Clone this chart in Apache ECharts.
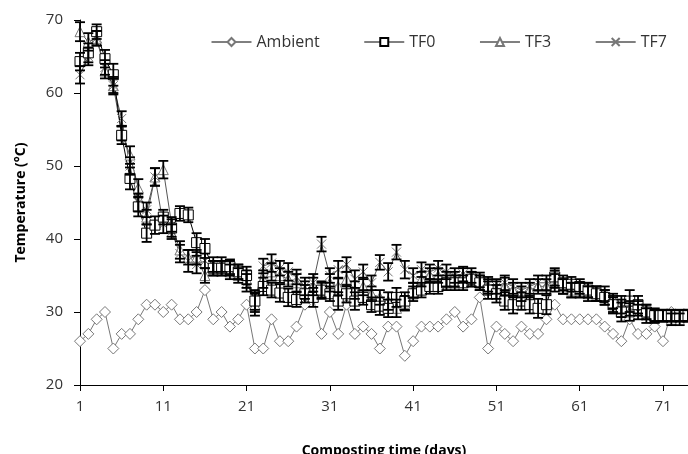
<!DOCTYPE html>
<html>
<head>
<meta charset="utf-8">
<script src="https://cdn.jsdelivr.net/npm/echarts@6/dist/echarts.min.js"></script>
<style>
  html, body { margin: 0; padding: 0; background: #fff; }
  #chart { width: 688px; height: 454px; }
</style>
</head>
<body>
<div id="chart"></div>
<script>
// 天数（类目轴）
const days = Array.from({length: 74}, (_, i) => String(i + 1))

// 环境温度
const ambient = [26, 27, 29, 30, 25, 27, 27, 29, 31, 31, 30, 31, 29, 29, 30, 33, 29, 30, 28, 29,
  31, 25, 25, 29, 26, 26, 28, 31, 32, 27, 30, 27, 31, 27, 28, 27, 25, 28, 28, 24,
  26, 28, 28, 28, 29, 30, 28, 29, 32, 25, 28, 27, 26, 28, 27, 27, 29, 31, 29, 29,
  29, 29, 29, 28, 27, 26, 29, 27, 27, 28, 26, 30]

// TF0 / TF3 / TF7 平均温度
const tf0 = [64.3, 65.5, 68.4, 64.7, 62.5, 54.2, 48.3, 44.4, 40.8, 41.9, 43.0, 41.5, 43.5, 43.3, 39.5, 38.7, 36.0, 36.0, 36.2, 35.5,
  35.0, 31.5, 33.5, 33.0, 32.6, 32.0, 31.7, 32.5, 32.0, 33.0, 32.5, 31.5, 32.5, 31.5, 32.0, 31.0, 30.8, 30.5, 32.0, 31.5,
  32.5, 33.0, 33.5, 33.5, 34.0, 34.0, 34.0, 34.5, 34.0, 33.0, 32.5, 31.5, 31.0, 31.5, 31.0, 30.5, 31.0, 34.8, 34.0, 33.8,
  33.5, 33.0, 32.5, 32.0, 31.0, 30.0, 31.5, 31.0, 30.0, 29.5, 29.5, 29.5, 29.5, 29.5]
const tf3 = [68.4, 67.0, 67.5, 63.0, 61.0, 54.5, 51.5, 47.0, 43.0, 48.5, 49.5, 42.0, 38.5, 37.5, 37.5, 35.0, 36.5, 36.0, 35.5, 35.0,
  34.5, 31.0, 34.5, 35.5, 35.0, 34.5, 34.0, 33.0, 33.5, 33.0, 34.0, 33.5, 34.5, 33.0, 33.5, 32.5, 32.0, 31.5, 30.5, 31.2,
  33.0, 34.5, 35.0, 35.0, 34.5, 34.5, 35.0, 34.5, 34.0, 33.5, 33.0, 33.5, 33.0, 32.5, 33.0, 33.5, 33.5, 34.5, 33.5, 33.0,
  33.0, 32.5, 32.5, 32.0, 31.0, 30.5, 30.0, 30.5, 30.0, 29.5, 29.5, 29.0, 29.5, 29.5]
const tf7 = [62.5, 65.0, 67.5, 63.5, 61.0, 56.5, 50.0, 45.0, 44.0, 48.5, 42.0, 41.0, 38.0, 37.0, 36.5, 37.0, 36.0, 36.5, 36.0, 35.5,
  34.0, 31.5, 36.3, 36.7, 36.0, 35.5, 34.8, 33.5, 34.0, 39.3, 35.0, 35.8, 36.5, 34.5, 35.5, 34.0, 36.8, 35.5, 38.2, 35.8,
  35.0, 35.8, 35.5, 36.0, 35.5, 35.0, 35.2, 35.0, 34.4, 33.8, 33.5, 34.0, 33.5, 33.0, 33.5, 34.0, 34.0, 34.0, 33.5, 33.0,
  33.0, 33.0, 32.5, 32.5, 31.5, 31.0, 30.5, 30.0, 29.5, 29.5, 29.5, 29.5, 29.0, 29.5]

// 误差（标准差）
const tf0Err = [1.2, 1.3, 1.0, 1.2, 1.5, 1.2, 1.5, 1.3, 1.2, 1.2, 1.0, 1.2, 1.0, 1.0, 1.3, 1.3, 1.0, 1.0, 1.0, 1.0,
  1.2, 1.5, 1.2, 1.0, 1.2, 1.2, 1.0, 1.2, 1.3, 1.2, 1.0, 1.2, 1.2, 1.2, 1.0, 1.0, 1.2, 1.2, 1.3, 1.2,
  1.0, 1.0, 1.0, 1.0, 1.0, 1.0, 1.0, 1.0, 1.0, 1.2, 1.2, 1.2, 1.2, 1.2, 1.2, 1.3, 1.3, 1.2, 1.0, 1.0,
  1.0, 1.0, 1.0, 1.0, 1.2, 1.3, 1.5, 1.2, 1.0, 1.0, 0.8, 0.8, 0.8, 0.8]
const tf3Err = [1.3, 1.2, 1.0, 1.0, 1.2, 1.0, 1.2, 1.2, 1.0, 1.2, 1.2, 1.0, 1.2, 1.0, 1.0, 1.0, 1.0, 1.0, 1.0, 1.0,
  1.2, 1.5, 1.2, 1.2, 1.0, 1.0, 1.2, 1.2, 1.2, 1.0, 1.2, 1.2, 1.0, 1.2, 1.2, 1.0, 1.0, 1.2, 1.2, 1.0,
  1.0, 1.0, 1.0, 1.0, 1.0, 1.0, 1.0, 1.0, 1.0, 1.0, 1.2, 1.2, 1.0, 1.0, 1.0, 1.0, 1.0, 1.2, 1.0, 1.0,
  1.0, 1.0, 1.0, 1.0, 1.0, 1.2, 1.2, 1.0, 1.0, 0.8, 0.8, 0.8, 0.8, 0.8]
const tf7Err = [1.2, 1.2, 1.0, 1.0, 1.0, 1.0, 1.2, 1.2, 1.0, 1.2, 1.2, 1.0, 1.2, 1.5, 1.2, 1.0, 1.0, 1.0, 1.0, 1.0,
  1.2, 1.2, 1.0, 1.2, 1.0, 1.2, 1.0, 1.2, 1.2, 1.0, 1.0, 1.2, 1.0, 1.2, 1.0, 1.0, 1.0, 1.2, 1.0, 1.2,
  1.0, 1.0, 1.0, 1.0, 1.0, 1.0, 1.0, 1.0, 1.0, 1.0, 1.0, 1.0, 1.0, 1.0, 1.0, 1.0, 1.0, 1.2, 1.0, 1.0,
  1.0, 1.0, 1.0, 1.0, 1.0, 1.2, 1.0, 1.0, 1.0, 0.8, 0.8, 0.8, 0.8, 0.8]

const FONT = 'Open Sans'
const crossPath = 'path://M0,0L10,10M10,0L0,10'

// 构建误差线数据 [类目索引, 下限, 上限]
const errData = (vals, errs) => vals.map((v, i) => [i, v - errs[i], v + errs[i]])

// 误差线绘制
const renderErrorBar = (params, api) => {
  const idx = api.value(0)
  const lo = api.coord([idx, api.value(1)])
  const hi = api.coord([idx, api.value(2)])
  const w = 5
  const style = {stroke: '#000', lineWidth: 1.8}
  return {
    type: 'group',
    children: [
      {type: 'line', shape: {x1: lo[0], y1: lo[1], x2: hi[0], y2: hi[1]}, style},
      {type: 'line', shape: {x1: lo[0] - w, y1: lo[1], x2: lo[0] + w, y2: lo[1]}, style},
      {type: 'line', shape: {x1: hi[0] - w, y1: hi[1], x2: hi[0] + w, y2: hi[1]}, style}
    ]
  }
}

const errorSeries = (vals, errs) => ({
  type: 'custom',
  renderItem: renderErrorBar,
  data: errData(vals, errs),
  encode: {x: 0, y: [1, 2]},
  silent: true,
  z: 3
})

const lineSeries = (name, data, symbol, size, lineColor, markColor) => ({
  name,
  type: 'line',
  data,
  symbol,
  symbolSize: size,
  showAllSymbol: true,
  lineStyle: {color: lineColor, width: 1},
  itemStyle: {color: '#fff', borderColor: markColor, borderWidth: 1},
  emphasis: {disabled: true},
  z: 2
})

const chart = echarts.init(document.getElementById('chart'))
chart.setOption({
  animation: false,
  backgroundColor: '#fff',
  textStyle: {fontFamily: FONT},
  grid: {left: 80, right: 0, top: 20, bottom: 69, outerBoundsMode: 'none'},
  legend: {
    data: ['Ambient', 'TF0', 'TF3', 'TF7'],
    top: 29,
    left: 206,
    itemWidth: 40,
    itemHeight: 10,
    itemGap: 44,
    lineStyle: {color: '#000', width: 1},
    textStyle: {fontFamily: FONT, fontSize: 16, color: '#333'}
  },
  xAxis: {
    type: 'category',
    data: days,
    boundaryGap: false,
    name: 'Composting time (days)',
    nameLocation: 'middle',
    nameGap: 59,
    nameTextStyle: {fontFamily: FONT, fontSize: 14, fontWeight: 'bold', color: '#000'},
    axisLine: {lineStyle: {color: '#000', width: 1}},
    axisTick: {interval: 9, length: 6, lineStyle: {color: '#000'}},
    axisLabel: {interval: 9, margin: 14, fontSize: 15, color: '#333', fontFamily: FONT}
  },
  yAxis: {
    type: 'value',
    min: 20,
    max: 70,
    interval: 10,
    name: 'Temperature (\u00b0C)',
    nameLocation: 'middle',
    nameGap: 52,
    nameTextStyle: {fontFamily: FONT, fontSize: 14, fontWeight: 'bold', color: '#000'},
    axisLine: {show: true, lineStyle: {color: '#000', width: 1}},
    axisTick: {show: true, length: 6, lineStyle: {color: '#000'}},
    axisLabel: {margin: 17, fontSize: 15, color: '#333', fontFamily: FONT},
    splitLine: {show: false}
  },
  series: [
    lineSeries('Ambient', ambient, 'diamond', 11, '#777', '#777'),
    errorSeries(tf3, tf3Err),
    errorSeries(tf7, tf7Err),
    errorSeries(tf0, tf0Err),
    lineSeries('TF3', tf3, 'triangle', 10, '#555', '#777'),
    lineSeries('TF7', tf7, crossPath, 9, '#555', '#777'),
    lineSeries('TF0', tf0, 'rect', 10, '#000', '#000')
  ]
})
</script>
</body>
</html>
